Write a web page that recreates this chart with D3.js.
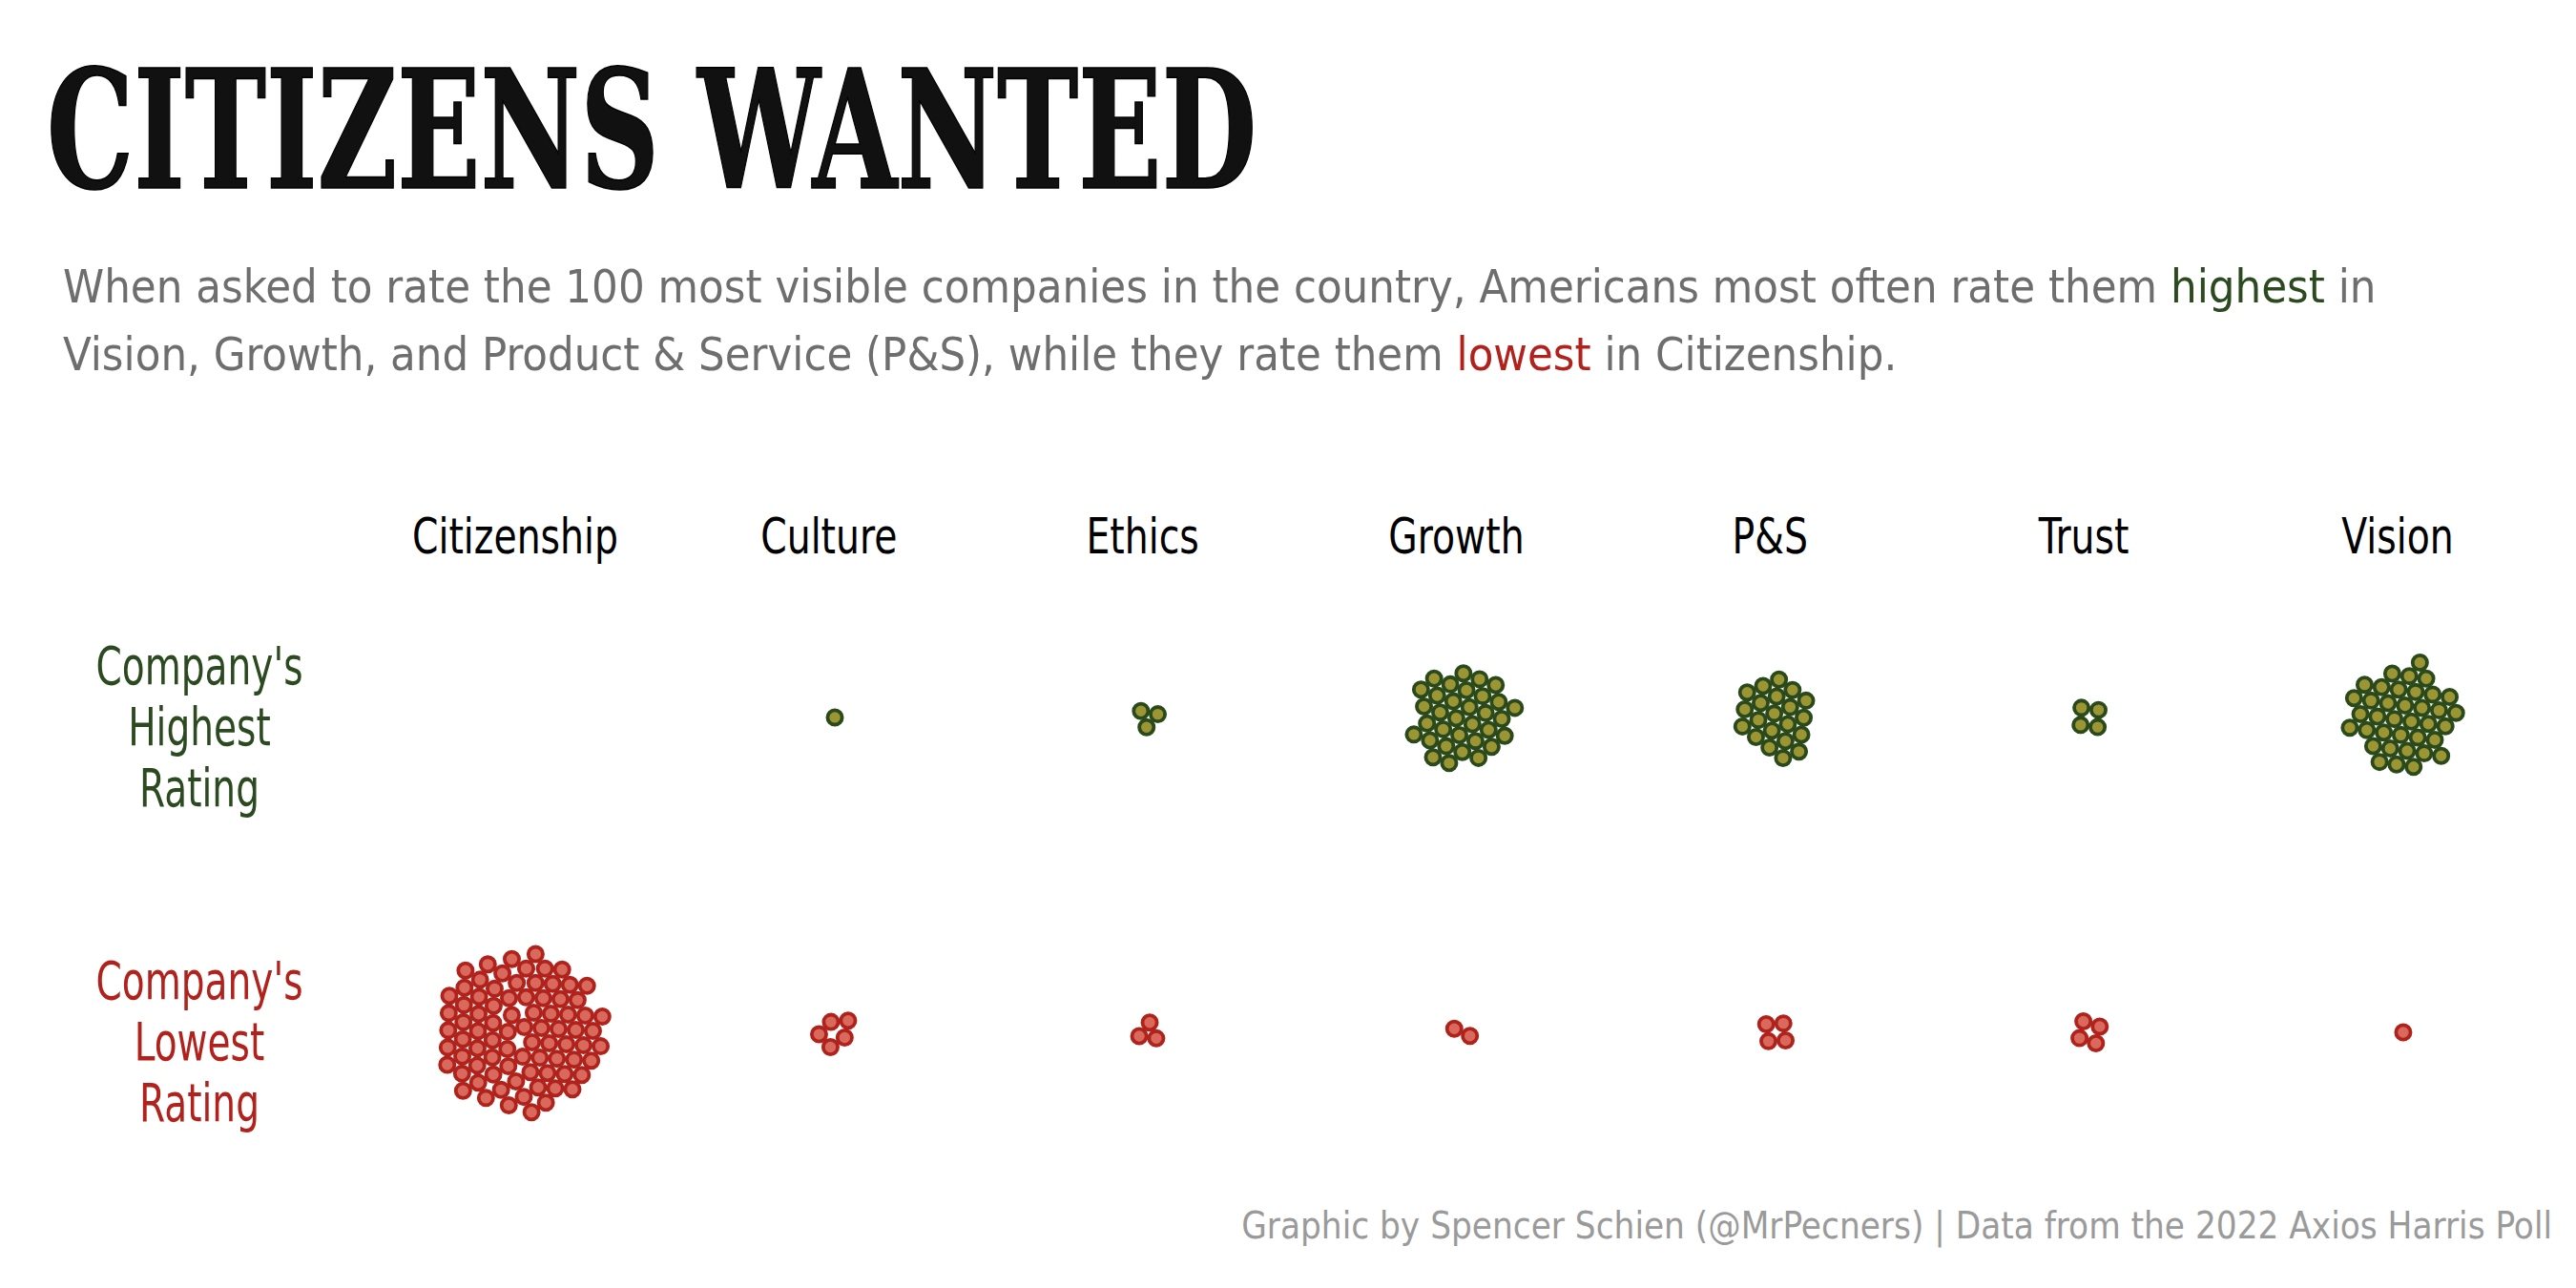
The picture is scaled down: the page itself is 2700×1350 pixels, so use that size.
<!DOCTYPE html>
<html>
<head>
<meta charset="utf-8">
<script src="https://cdn.jsdelivr.net/npm/d3@7"></script>
<style>
  html, body { margin: 0; padding: 0; background: #ffffff; }
  svg { display: block; }
  text.cond { font-stretch: condensed; }
</style>
</head>
<body>
<svg id="chart" width="2700" height="1350"></svg>
<script>
// ---- data ----
const categories = ["Citizenship", "Culture", "Ethics", "Growth", "P&S", "Trust", "Vision"];
const highestCounts = [0, 1, 3, 33, 21, 4, 37];
const lowestCounts = [81, 5, 3, 2, 4, 4, 1];
const ratingRows = ["highest", "lowest"];
const rowLabels = {
  highest: ["Company's", "Highest", "Rating"],
  lowest: ["Company's", "Lowest", "Rating"]
};
const titleText = "CITIZENS WANTED";
const subtitleLine1 = ["When asked to rate the 100 most visible companies in the country, Americans most often rate them ", "highest", " in"];
const subtitleLine2 = ["Vision, Growth, and Product & Service (P&S), while they rate them ", "lowest", " in Citizenship."];
const footerText = "Graphic by Spencer Schien (@MrPecners) | Data from the 2022 Axios Harris Poll";

// ---- styling ----
const FONT = "'DejaVu Sans Condensed', 'DejaVu Sans', 'Noto Sans', sans-serif";
const GREEN_TEXT = "#2c4a1f";
const RED_TEXT = "#b2221c";
const GRAY = "#6e6e6e";
const HIGH_FILL = "#9b9633", HIGH_STROKE = "#2b4a1c";
const LOW_FILL = "#d9695c", LOW_STROKE = "#b0231c";

const svg = d3.select("#chart");

// scale font-size so the natural width matches a target width
function fitBySize(sel, baseSize, target) {
  const w = sel.node().getComputedTextLength();
  const s = baseSize * target / w;
  sel.attr("font-size", Math.max(baseSize * 0.8, Math.min(baseSize * 1.15, s)));
}
function squeeze(sel, k) {
  sel.each(function () {
    const w = this.getComputedTextLength();
    d3.select(this).attr("textLength", w * k).attr("lengthAdjust", "spacingAndGlyphs");
  });
}

// Title
svg.append("text")
  .attr("x", 49).attr("y", 197)
  .attr("font-family", "'DejaVu Serif Condensed', 'DejaVu Serif', serif")
  .attr("class", "cond")
  .attr("font-weight", "bold")
  .attr("font-size", 172)
  .attr("textLength", 1268)
  .attr("lengthAdjust", "spacingAndGlyphs")
  .attr("fill", "#111")
  .attr("stroke", "#000").attr("stroke-width", 1.5)
  .text(titleText);

// Subtitle
function addLine(parts, y, accent, width) {
  const t = svg.append("text")
    .attr("class", "cond")
    .attr("x", 66).attr("y", y)
    .attr("font-family", FONT)
    .attr("font-size", 54)
    .attr("fill", GRAY);
  parts.forEach((p, i) => {
    t.append("tspan").attr("fill", i === 1 ? accent : GRAY).text(p);
  });
  fitBySize(t, 54, width);
}
addLine(subtitleLine1, 317, GREEN_TEXT, 2425);
addLine(subtitleLine2, 388, RED_TEXT, 1923);

// Scales
const x = d3.scalePoint().domain(categories).range([546, 2519]);
const y = d3.scalePoint().domain(ratingRows).range([752, 1082]);

// Column headers
const headers = svg.append("g").selectAll("text")
  .data(categories)
  .join("text")
  .attr("class", "cond")
  .attr("x", d => x(d) - 6)
  .attr("y", 580)
  .attr("text-anchor", "middle")
  .attr("font-family", FONT)
  .attr("font-size", 52)
  .attr("fill", "#000")
  .text(d => d);
const citW = headers.filter(d => d === "Citizenship").node().getComputedTextLength();
const hk = 216 / citW;
if (Math.abs(hk - 1) > 0.03) squeeze(headers, hk);

// Row labels
ratingRows.forEach(r => {
  const col = r === "highest" ? GREEN_TEXT : RED_TEXT;
  const g = svg.append("g");
  rowLabels[r].forEach((line, i) => {
    g.append("text")
      .attr("class", "cond")
      .attr("x", 209)
      .attr("y", y(r) - 35 + i * 64)
      .attr("text-anchor", "middle")
      .attr("font-family", FONT)
      .attr("font-size", 56)
      .attr("fill", col)
      .text(line);
  });
  const cw = g.select("text").node().getComputedTextLength();
  const rk = 217 / cw;
  if (Math.abs(rk - 1) > 0.03) squeeze(g.selectAll("text"), rk);
});

// Nodes
const nodes = [];
categories.forEach((c, i) => {
  for (let k = 0; k < highestCounts[i]; k++) nodes.push({ cat: c, row: "highest" });
  for (let k = 0; k < lowestCounts[i]; k++) nodes.push({ cat: c, row: "lowest" });
});
nodes.forEach((n, i) => {
  const a = i * 2.39996;
  const rr = 4 * Math.sqrt(i % 90 + 0.5);
  n.x = x(n.cat) + rr * Math.cos(a);
  n.y = y(n.row) + rr * Math.sin(a);
});

const sim = d3.forceSimulation(nodes)
  .force("x", d3.forceX(d => x(d.cat)).strength(0.07))
  .force("y", d3.forceY(d => y(d.row)).strength(0.07))
  .force("collide", d3.forceCollide(9).iterations(3))
  .stop();
for (let i = 0; i < 400; i++) sim.tick();

svg.append("g").selectAll("circle")
  .data(nodes)
  .join("circle")
  .attr("cx", d => d.x)
  .attr("cy", d => d.y)
  .attr("r", 7.6)
  .attr("fill", d => d.row === "highest" ? HIGH_FILL : LOW_FILL)
  .attr("stroke", d => d.row === "highest" ? HIGH_STROKE : LOW_STROKE)
  .attr("stroke-width", 3.8);

// Footer
const footer = svg.append("text")
  .attr("class", "cond")
  .attr("x", 2675).attr("y", 1298)
  .attr("text-anchor", "end")
  .attr("font-family", FONT)
  .attr("font-size", 42)
  .attr("fill", "#9a9a9a")
  .text(footerText);
fitBySize(footer, 42, 1374);
</script>
</body>
</html>
